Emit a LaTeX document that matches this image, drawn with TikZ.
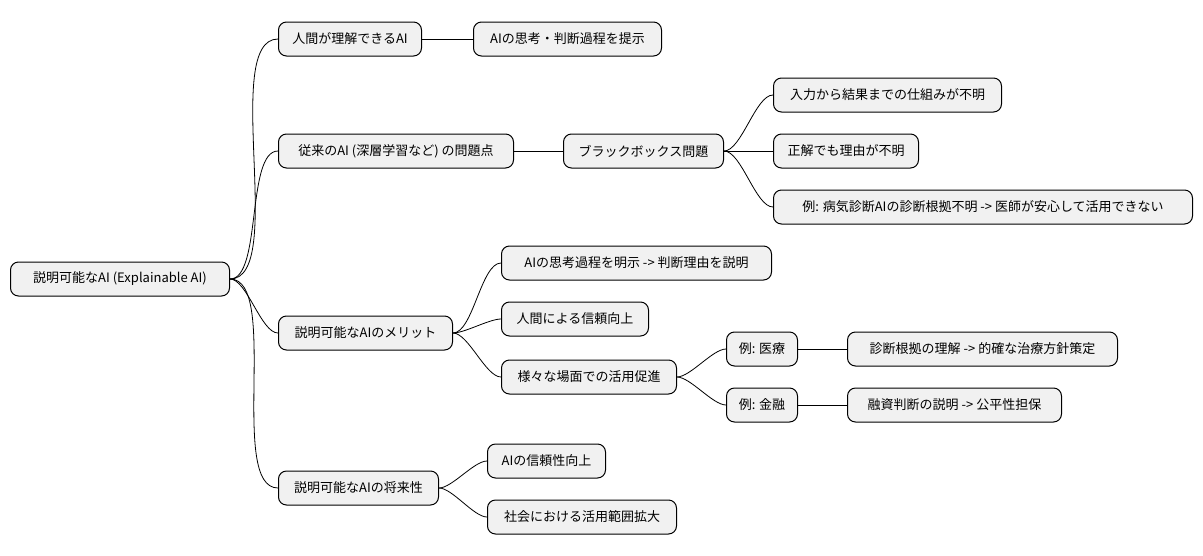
\documentclass[tikz,border=0pt]{standalone}
\usepackage{fontspec}
\setmainfont{Noto Sans CJK JP}
\begin{document}
\begin{tikzpicture}[x=1pt,y=-1pt,
  box/.style={draw=black,line width=1pt,fill=gray!11,rounded corners=8pt,minimum height=34pt,inner xsep=0pt,anchor=west,font=\fontsize{13}{15}\selectfont},
  ln/.style={line width=0.8pt},
  cv/.style={ln,out=0,in=180,looseness=0.6}]
\useasboundingbox (0,0) rectangle (1203,555);
\newcommand\bx[5]{\node[box,minimum width=#4] (#1) at (#2,#3) {#5};}
\bx{r}{10}{279}{219}{説明可能なAI (Explainable AI)}
\bx{a}{278}{39}{143}{人間が理解できるAI}
\bx{aa}{473}{39}{188}{AIの思考・判断過程を提示}
\bx{b}{278}{151}{235}{従来のAI (深層学習など) の問題点}
\bx{ba}{563}{151}{160}{ブラックボックス問題}
\bx{ba1}{773}{95}{228}{入力から結果までの仕組みが不明}
\bx{ba2}{773}{151}{145}{正解でも理由が不明}
\bx{ba3}{773}{207}{419}{例: 病気診断AIの診断根拠不明 -> 医師が安心して活用できない}
\bx{c}{278}{333}{174}{説明可能なAIのメリット}
\bx{ca}{501}{263}{270}{AIの思考過程を明示 -> 判断理由を説明}
\bx{cb}{501}{319}{147}{人間による信頼向上}
\bx{cc}{501}{377}{175}{様々な場面での活用促進}
\bx{cc1}{726}{349}{71}{例: 医療}
\bx{cc1a}{847}{349}{270}{診断根拠の理解 -> 的確な治療方針策定}
\bx{cc2}{726}{405}{71}{例: 金融}
\bx{cc2a}{847}{405}{214}{融資判断の説明 -> 公平性担保}
\bx{d}{278}{488}{160}{説明可能なAIの将来性}
\bx{da}{487}{461}{118}{AIの信頼性向上}
\bx{db}{487}{517}{189}{社会における活用範囲拡大}
\foreach \p/\c in {r/a,r/b,r/c,r/d,ba/ba1,ba/ba3,c/ca,c/cb,c/cc,cc/cc1,cc/cc2,d/da,d/db}
  \draw[cv] (\p.east) to (\c.west);
\foreach \p/\c in {a/aa,b/ba,ba/ba2,cc1/cc1a,cc2/cc2a}
  \draw[ln] (\p.east) -- (\c.west);
\end{tikzpicture}
\end{document}
